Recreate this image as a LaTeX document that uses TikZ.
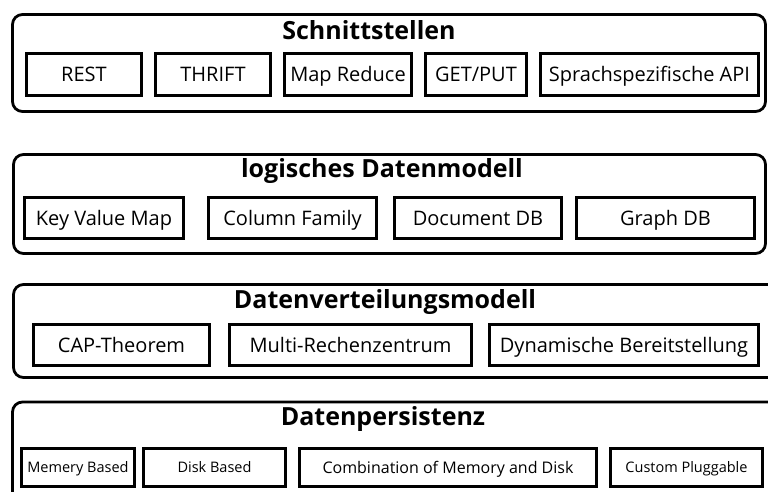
\documentclass[tikz,border=0pt]{standalone}
\usepackage{fontspec}
\setmainfont{Open Sans}

\begin{document}
\begin{tikzpicture}[x=1pt, y=-1pt,
    layer/.style = {draw, rounded corners=10pt, line width=2.8pt, inner sep=0pt},
    title/.style = {font=\bfseries\fontsize{25}{29}\selectfont, anchor=base, inner sep=0pt},
    item/.style = {draw, line width=3.2pt, inner sep=0pt, minimum height=41pt, text height=14.3pt, text depth=0pt, font=\fontsize{20}{24}\selectfont},
    small/.style = {item, minimum height=38pt, text height=10.4pt, font=\fontsize{14.5}{17}\selectfont}]
    \useasboundingbox (0,0) rectangle (768,491);
    \clip (0,0) rectangle (768,491);

    \node[layer, minimum width=753pt, minimum height=97pt] at (389,63) (api){};
    \node[layer, minimum width=752pt, minimum height=99pt] at (389.5,204) (logic){};
    \node[layer, minimum width=765pt, minimum height=93pt] at (396,331) (dist){};
    \node[layer, minimum width=766pt, minimum height=106pt] at (395.5,455) (pers){};

    \node[title] at (369,39) (t1){Schnittstellen};
    \node[title] at (382,177) (t2){logisches Datenmodell};
    \node[title] at (385,308) (t3){Datenverteilungsmodell};
    \node[title] at (383,425) (t4){Datenpersistenz};

    \node[item, minimum height=42pt, minimum width=115pt] at (84,74.5) (rest){REST};
    \node[item, minimum height=42pt, minimum width=115pt] at (213,74.5) (thrift){THRIFT};
    \node[item, minimum height=42pt, minimum width=127pt] at (348,74.5) (mr){Map Reduce};
    \node[item, minimum height=42pt, minimum width=101pt] at (476,74.5) (getput){GET/PUT};
    \node[item, minimum height=42pt, minimum width=218pt] at (649.5,74.5) (lang){Sprachspezifische API};

    \node[item, minimum width=159pt] at (104,218) (kv){Key Value Map};
    \node[item, minimum width=168pt] at (292.5,218) (col){Column Family};
    \node[item, minimum width=167pt] at (478,218) (doc){Document DB};
    \node[item, minimum width=178pt] at (665.5,218) (graph){Graph DB};

    \node[item, minimum width=176pt] at (121.5,345) (cap){CAP-Theorem};
    \node[item, minimum width=242pt] at (350.5,345) (multi){Multi-Rechenzentrum};
    \node[item, minimum width=269pt] at (624,345) (dyn){Dynamische Bereitstellung};

    \node[small, minimum width=113pt] at (78,467.5) (mem){Memery Based};
    \node[small, minimum width=142pt] at (214.5,467.5) (disk){Disk Based};
    \node[small, minimum width=297pt, text height=11.4pt, font=\fontsize{16}{19}\selectfont] at (448,467.5) (comb){Combination of Memory and Disk};
    \node[small, minimum width=152pt] at (686.5,467.5) (custom){Custom Pluggable};
\end{tikzpicture}
\end{document}
